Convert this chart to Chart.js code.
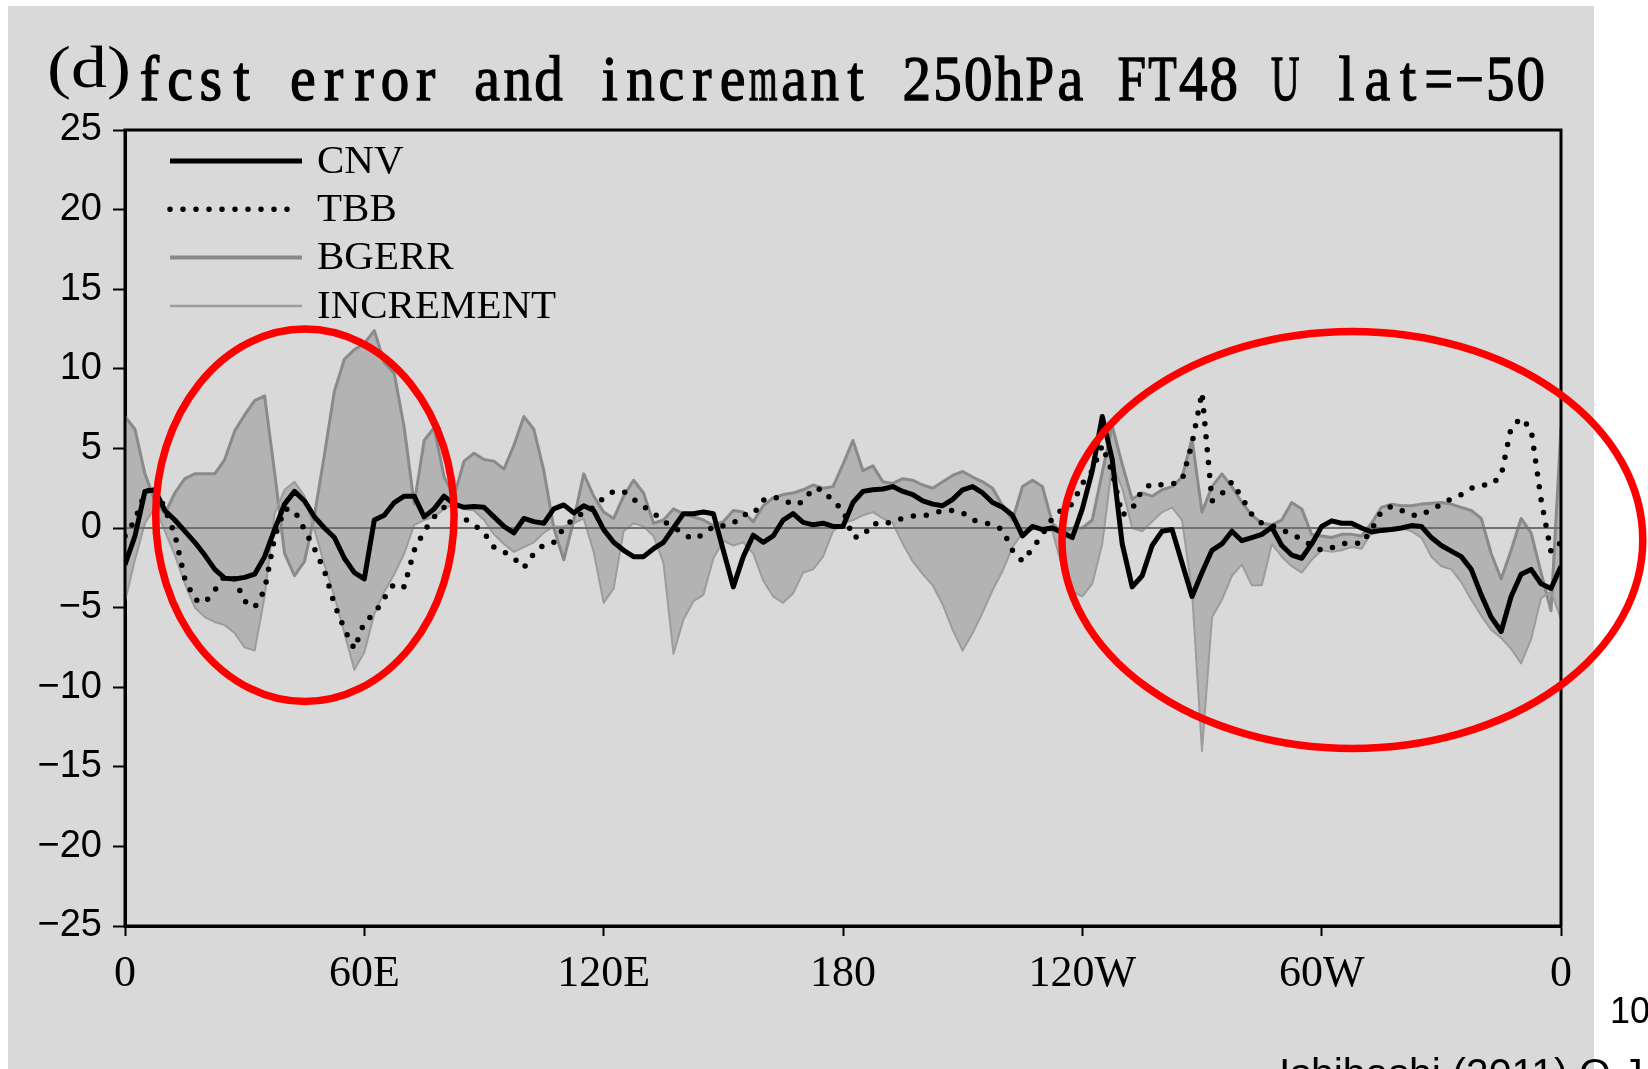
<!DOCTYPE html>
<html>
<head>
<meta charset="utf-8">
<script src="https://cdn.jsdelivr.net/npm/chart.js@4.4.0/dist/chart.umd.min.js"></script>
<style>
  html, body { margin: 0; padding: 0; background: #fff; }
  #wrap { position: relative; width: 1648px; height: 1069px; }
</style>
</head>
<body>
<div id="wrap"><canvas id="chart"></canvas></div>
<script>
// longitude grid, 2.5 deg step (0 .. 360)
const lon = Array.from({ length: 145 }, (_, i) => i * 2.5);

// one row = 20 deg of longitude
const cnv = [
  -2.3, -0.5, 2.3, 2.4, 1.1, 0.5, -0.2, -0.9,
  -1.7, -2.6, -3.15, -3.2, -3.1, -2.9, -1.8, -0.1,
  1.5, 2.3, 1.7, 0.7, 0.0, -0.6, -1.9, -2.8,
  -3.2, 0.5, 0.8, 1.6, 2.0, 2.0, 0.7, 1.2,
  2.0, 1.5, 1.3, 1.35, 1.3, 0.7, 0.1, -0.3,
  0.6, 0.4, 0.3, 1.2, 1.45, 0.95, 1.4, 1.1,
  -0.1, -0.9, -1.4, -1.8, -1.8, -1.3, -0.9, 0.0,
  0.9, 0.9, 1.0, 0.9, -1.4, -3.7, -1.8, -0.45,
  -0.9, -0.5, 0.5, 0.9, 0.35, 0.2, 0.3, 0.1,
  0.1, 1.6, 2.3, 2.4, 2.45, 2.6, 2.3, 2.1,
  1.7, 1.5, 1.4, 1.8, 2.4, 2.6, 2.2, 1.6,
  1.3, 0.8, -0.5, 0.1, -0.1, 0.0, -0.3, -0.6,
  1.2, 3.6, 7.0, 4.3, -1.0, -3.7, -3.0, -1.1,
  -0.2, -0.1, -2.2, -4.3, -2.8, -1.4, -1.0, -0.2,
  -0.8, -0.6, -0.4, 0.05, -1.1, -1.7, -1.9, -1.0,
  0.1, 0.45, 0.3, 0.3, 0.0, -0.25, -0.15, -0.1,
  0.0, 0.15, 0.1, -0.6, -1.1, -1.45, -1.8, -2.6,
  -4.2, -5.6, -6.5, -4.3, -2.9, -2.6, -3.5, -3.8,
  -2.4
];

const tbb = [
  -0.5, 0.5, 2.2, 2.6, 1.2, -0.4, -3.2, -4.5,
  -4.7, -3.9, -3.0, -3.2, -4.6, -5.0, -3.9, -0.6,
  1.2, 1.1, -0.1, -1.3, -2.7, -4.8, -6.35, -7.6,
  -5.9, -5.4, -4.4, -3.5, -3.7, -1.4, -0.2, 0.7,
  1.3, 0.85, 0.6, 0.2, -0.3, -1.2, -1.5, -1.9,
  -2.5, -1.6, -1.05, -0.9, 0.0, 0.6, 0.95, 1.3,
  1.9, 2.3, 2.3, 1.8, 1.35, 0.95, 0.4, 0.1,
  -0.4, -0.7, -0.4, 0.1, 0.15, 0.3, 0.85, 0.85,
  1.75, 1.95, 1.8, 1.45, 1.65, 2.5, 2.4, 1.65,
  1.15, -0.6, -0.5, 0.3, 0.2, 0.45, 0.6, 0.75,
  0.75, 0.9, 1.1, 1.1, 0.95, 0.5, 0.35, 0.2,
  -0.1, -1.4, -2.1, -1.3, -0.4, 0.6, 1.2, 1.5,
  2.8, 3.6, 5.2, 3.5, 0.8, 1.2, 2.4, 2.8,
  2.7, 2.75, 3.0, 5.3, 8.5, 1.7, 2.15, 2.9,
  1.9, 0.85, 0.3, 0.15, -0.1, -0.4, -0.7, -1.1,
  -1.4, -1.25, -1.0, -0.9, -1.0, -0.1, 1.05, 1.35,
  1.1, 0.8, 0.8, 1.2, 1.45, 1.85, 2.1, 2.5,
  2.7, 2.7, 3.3, 6.3, 6.9, 6.2, 1.8, -1.5,
  -0.9
];

const bgerr = [
  7.0, 6.2, 3.4, 1.7, 0.9, 2.2, 3.1, 3.4,
  3.4, 3.4, 4.3, 6.1, 7.1, 8.0, 8.3, 3.5,
  -1.6, -3.0, -2.1, 0.8, 4.6, 8.6, 10.6, 11.2,
  11.6, 12.4, 10.4, 9.7, 6.3, 1.5, 5.5, 6.3,
  3.2, 2.0, 4.2, 4.7, 4.3, 4.2, 3.7, 5.2,
  7.0, 6.2, 3.6, 0.0, -2.0, 0.5, 3.4, 2.0,
  1.0, 0.6, 2.0, 3.0, 2.2, 0.3, 0.5, 1.2,
  0.9, 0.7, 0.5, 0.15, 0.4, 1.1, 1.0, 0.4,
  1.4, 1.9, 2.1, 2.2, 2.4, 2.7, 2.5, 2.6,
  4.0, 5.5, 3.6, 3.9, 2.9, 2.8, 3.1, 3.0,
  2.7, 2.5, 2.9, 3.3, 3.55, 3.2, 2.9, 2.5,
  1.4, 0.5, 2.6, 3.0, 2.6, 0.3, -0.3, 0.0,
  0.0, 0.5, 3.5, 6.4, 4.0, 1.8, 2.2, 2.0,
  2.4, 2.6, 3.2, 5.6, 1.0, 2.6, 3.4, 2.6,
  1.6, 0.8, 0.3, 0.2, 0.5, 1.6, 1.2, -0.4,
  -0.5, -0.6, -0.4, -0.4, -0.5, 0.3, 1.3, 1.5,
  1.4, 1.4, 1.5, 1.55, 1.6, 1.5, 1.3, 1.1,
  0.6, -1.6, -3.2, -1.4, 0.6, -0.3, -2.8, -5.2,
  6.3
];

const increment = [
  -4.6, -2.0, 0.3, 1.3, -0.2, -1.7, -3.5, -5.0,
  -5.6, -5.9, -6.1, -6.6, -7.5, -7.7, -4.3, 0.9,
  2.4, 2.9, 2.0, -0.1, -2.3, -4.3, -6.6, -8.9,
  -7.8, -5.4, -4.0, -2.9, -1.6, 0.2, 0.5, 0.7,
  1.2, 1.5, 1.2, 1.1, 0.5, -0.4, -1.0, -1.5,
  -1.2, -0.9, -0.3, 0.1, 0.1, 0.3, 0.6, -1.5,
  -4.7, -3.8, -0.2, 0.3, 0.1, -0.5, -2.2, -7.9,
  -5.75, -4.6, -4.2, -1.9, -0.8, -1.1, -0.9, -1.6,
  -3.3, -4.3, -4.7, -4.1, -2.8, -2.6, -1.8, -0.2,
  0.3, 0.5, 0.8, 1.0, 0.6, 0.3, -1.0, -2.1,
  -2.9, -3.6, -4.8, -6.4, -7.7, -6.6, -5.3, -3.9,
  -2.7, -1.2, -0.3, -0.1, 0.0, -0.2, -2.5, -4.0,
  -4.3, -3.5, -1.0, 4.0, 2.5, 0.0, -0.2, 0.4,
  1.0, 1.3, 0.5, -4.0, -14.0, -5.6, -4.5, -3.0,
  -2.3, -3.6, -3.6, -1.0, -1.8, -2.4, -2.8, -2.0,
  -1.4, -1.5, -1.4, -1.2, -1.3, -0.3, -0.1, 0.0,
  0.0, -0.2, -0.6, -1.8, -2.4, -2.6, -3.4, -4.5,
  -5.5, -6.4, -6.9, -7.6, -8.5, -7.0, -4.4, -4.0,
  -5.7
];

const xTickValues = [0, 60, 120, 180, 240, 300, 360];
const xTickLabels = ['0', '60E', '120E', '180', '120W', '60W', '0'];
const yTickValues = [-25, -20, -15, -10, -5, 0, 5, 10, 15, 20, 25];
const yTickLabels = ['\u221225', '\u221220', '\u221215', '\u221210', '\u22125', '0', '5', '10', '15', '20', '25'];

const panelLabel = '(d)';
const titleText = 'fcst error and incremant 250hPa FT48 U lat=\u221250';
const legendNames = ['CNV', 'TBB', 'BGERR', 'INCREMENT'];
const pageNumber = '10';
const sourceText = 'Ishibashi (2011) Q.J.R.Meteorol.Soc.';

// red marks over the figure: centre lon, centre value, lon radius, value radius
const marks = [
  [45.1, 0.8, 37.4, 11.7],
  [307.7, -0.75, 72.8, 13.1]
];

const toXY = arr => arr.map((v, i) => ({ x: lon[i], y: v }));

const decor = {
  id: 'decor',
  beforeDraw(chart) {
    const ctx = chart.ctx;
    ctx.save();
    ctx.fillStyle = '#ffffff';
    ctx.fillRect(0, 0, chart.width, chart.height);
    ctx.fillStyle = '#d9d9d9';
    ctx.fillRect(8, 6, 1586, chart.height - 6);
    ctx.restore();
  },
  afterDatasetsDraw(chart) {
    const ctx = chart.ctx;
    const a = chart.chartArea;
    ctx.save();
    // frame
    ctx.strokeStyle = '#000';
    ctx.lineWidth = 3;
    ctx.setLineDash([]);
    ctx.strokeRect(a.left, a.top, a.right - a.left, a.bottom - a.top);

    // legend, styled from the datasets
    const x0 = a.left + 45, x1 = a.left + 177;
    legendNames.forEach((name, i) => {
      const ds = chart.data.datasets.find(d => d.label === name);
      const y = a.top + 31 + i * 48.3;
      ctx.beginPath();
      ctx.strokeStyle = ds.borderColor;
      ctx.lineWidth = ds.legendWidth || ds.borderWidth;
      ctx.lineCap = ds.borderCapStyle || 'butt';
      ctx.setLineDash(ds.borderDash || []);
      ctx.moveTo(x0, y);
      ctx.lineTo(name === 'TBB' ? x1 - 12 : x1, y);
      ctx.stroke();
      ctx.setLineDash([]);
      ctx.fillStyle = '#000';
      ctx.font = '41px "Liberation Serif"';
      ctx.textBaseline = 'middle';
      ctx.fillText(name, a.left + 192, y + 1);
    });
    ctx.restore();
  },
  afterDraw(chart) {
    const ctx = chart.ctx;
    const xs = chart.scales.x, ys = chart.scales.y;
    ctx.save();
    ctx.fillStyle = '#000';
    ctx.strokeStyle = '#000';
    ctx.textBaseline = 'alphabetic';

    // panel letter
    ctx.save();
    ctx.translate(47, 87);
    ctx.scale(1.22, 1);
    ctx.font = '59px "Liberation Serif"';
    ctx.fillText(panelLabel, 0, 0);
    ctx.restore();

    // title: serif glyphs squeezed into fixed cells (typewriter look)
    const cell = 30.7;
    ctx.font = '63px "Liberation Serif"';
    ctx.textAlign = 'center';
    ctx.lineWidth = 1.3;
    [...titleText].forEach((ch, i) => {
      const w = ctx.measureText(ch).width || 1;
      const sx = Math.min(0.92, 28.5 / w);
      ctx.save();
      ctx.translate(134 + i * cell + cell / 2, 100);
      ctx.scale(sx, 1);
      ctx.fillText(ch, 0, 0);
      ctx.strokeText(ch, 0, 0);
      ctx.restore();
    });
    ctx.textAlign = 'left';

    // page number and source line
    ctx.font = '36px "Liberation Sans"';
    ctx.fillText(pageNumber, 1610, 1023);
    ctx.font = '41px "Liberation Sans"';
    ctx.fillText(sourceText, 1279, 1087);

    // red ellipses
    ctx.strokeStyle = '#ff0000';
    ctx.lineWidth = 7.5;
    marks.forEach(([cx, cy, rx, ry]) => {
      const px = xs.getPixelForValue(cx);
      const py = ys.getPixelForValue(cy);
      const prx = xs.getPixelForValue(cx + rx) - px;
      const pry = py - ys.getPixelForValue(cy + ry);
      ctx.beginPath();
      ctx.ellipse(px, py, prx, pry, 0, 0, Math.PI * 2);
      ctx.stroke();
    });
    ctx.restore();
  }
};

const chart = new Chart(document.getElementById('chart'), {
  type: 'line',
  data: {
    datasets: [
      {
        label: 'BGERR',
        data: toXY(bgerr),
        borderColor: '#8a8a8a',
        borderWidth: 3,
        legendWidth: 4,
        backgroundColor: '#b3b3b3',
        fill: '+1',
        order: 5
      },
      {
        label: 'INCREMENT',
        data: toXY(increment),
        borderColor: '#9c9c9c',
        borderWidth: 2,
        legendWidth: 2.5,
        fill: false,
        order: 4
      },
      {
        label: 'zero',
        data: [{ x: 0, y: 0 }, { x: 360, y: 0 }],
        borderColor: '#707070',
        borderWidth: 2,
        fill: false,
        order: 3
      },
      {
        label: 'TBB',
        data: toXY(tbb),
        borderColor: '#000000',
        borderWidth: 5.5,
        borderDash: [0, 13],
        borderCapStyle: 'round',
        fill: false,
        order: 2
      },
      {
        label: 'CNV',
        data: toXY(cnv),
        borderColor: '#000000',
        borderWidth: 5,
        fill: false,
        order: 1
      }
    ]
  },
  options: {
    responsive: true,
    maintainAspectRatio: false,
    animation: false,
    devicePixelRatio: 1,
    layout: { padding: { top: 130, right: 87, left: 0, bottom: 0 } },
    elements: {
      point: { radius: 0, hoverRadius: 0 },
      line: { tension: 0, borderJoinStyle: 'round' }
    },
    plugins: {
      legend: { display: false },
      tooltip: { enabled: false }
    },
    scales: {
      x: {
        type: 'linear',
        min: 0,
        max: 360,
        afterBuildTicks: s => { s.ticks = xTickValues.map(v => ({ value: v })); },
        afterFit: s => { s.height = 143; },
        ticks: {
          autoSkip: false,
          maxRotation: 0,
          padding: 12,
          color: '#000',
          font: { family: '"Liberation Serif"', size: 44 },
          callback: v => xTickLabels[xTickValues.indexOf(v)]
        },
        grid: { drawOnChartArea: false, tickLength: 10, tickColor: '#000', tickWidth: 2 },
        border: { color: '#000', width: 3 }
      },
      y: {
        min: -25,
        max: 25,
        afterBuildTicks: s => { s.ticks = yTickValues.map(v => ({ value: v })); },
        afterFit: s => { s.width = 125; },
        ticks: {
          padding: 11,
          color: '#000',
          font: { family: '"Liberation Sans"', size: 38 },
          callback: v => yTickLabels[yTickValues.indexOf(v)]
        },
        grid: { drawOnChartArea: false, tickLength: 12, tickColor: '#000', tickWidth: 2 },
        border: { color: '#000', width: 3 }
      }
    }
  },
  plugins: [decor]
});
</script>
</body>
</html>
